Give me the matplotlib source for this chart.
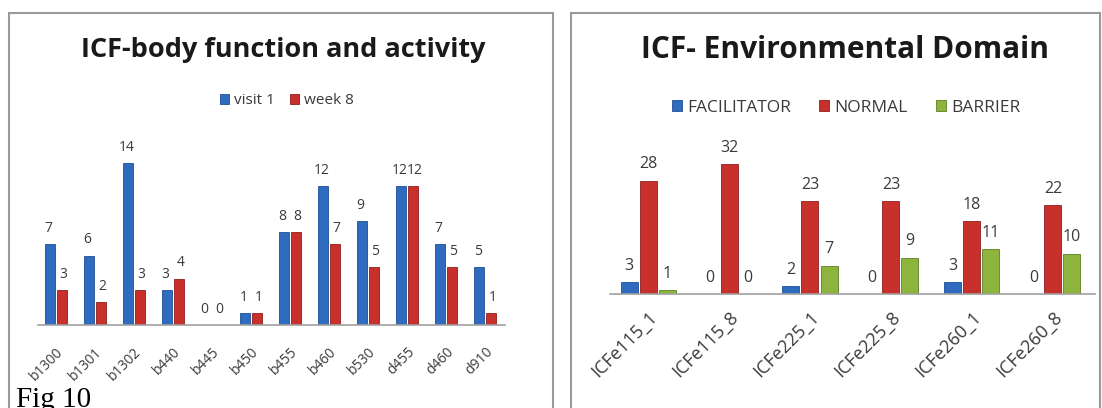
import numpy as np
import matplotlib.pyplot as plt
import matplotlib as mpl
from matplotlib.patches import Rectangle

# left chart data
body_codes = ["b1300", "b1301", "b1302", "b440", "b445", "b450",
              "b455", "b460", "b530", "d455", "d460", "d910"]
visit1 = [7, 6, 14, 3, 0, 1, 8, 12, 9, 12, 7, 5]
week8 = [3, 2, 3, 4, 0, 1, 8, 7, 5, 12, 5, 1]

# right chart data
env_codes = ["ICFe115_1", "ICFe115_8", "ICFe225_1", "ICFe225_8", "ICFe260_1", "ICFe260_8"]
facilitator = [3, 0, 2, 0, 3, 0]
normal = [28, 32, 23, 23, 18, 22]
barrier = [1, 0, 7, 9, 11, 10]

blue = '#2f6cc0'
red = '#c8302c'
green = '#8db43c'
txt = '#3a3a3a'

plt.rcParams['font.family'] = ['Open Sans', 'DejaVu Sans']

W, H = 1102, 408
fig = plt.figure(figsize=(W/100, H/100), dpi=100)


def px(x0, y0, x1, y1):
    # pixel box (top-left origin) -> figure fraction rect
    return [x0/W, 1 - y1/H, (x1-x0)/W, (y1-y0)/H]


# panel frames
for x0, x1 in [(9, 553), (571, 1100)]:
    fig.patches.append(Rectangle((x0/W, -0.05), (x1-x0)/W, 1 - 13/H + 0.05,
                                 transform=fig.transFigure, fill=False,
                                 edgecolor='#9a9a9a', linewidth=1.5))


def clean(ax):
    for s in ['top', 'right', 'left']:
        ax.spines[s].set_visible(False)
    ax.spines['bottom'].set_color('#a0a0a0')
    ax.spines['bottom'].set_linewidth(1.2)
    ax.set_yticks([])
    ax.tick_params(axis='x', length=0, colors=txt)
    ax.patch.set_alpha(0)


def labels(ax, xs, vals, size, dx=0):
    for x, v in zip(xs, vals):
        ax.annotate(str(v), (x, v), xytext=(dx, 6), textcoords='offset points',
                    ha='center', va='bottom', fontsize=size, color=txt)


# ---- left: body function and activity
ppu = 11.57
top = 17
ax1 = fig.add_axes(px(38, 325 - top*ppu, 505, 325))
x = np.arange(len(body_codes))
bw = 0.27
ax1.bar(x - bw/2 - 0.02, visit1, bw, color=blue, edgecolor='#1f4f95', linewidth=0.6, label='visit 1')
ax1.bar(x + bw/2 + 0.02, week8, bw, color=red, edgecolor='#8e1f1c', linewidth=0.6, label='week 8')
labels(ax1, x - bw/2 - 0.02, visit1, 10, dx=-1)
labels(ax1, x + bw/2 + 0.02, week8, 10, dx=1)
ax1.set_xlim(-0.46, 11.51)
ax1.set_ylim(0, top)
ax1.set_xticks(x)
ax1.set_xticklabels(body_codes, rotation=45, ha='right', rotation_mode='anchor', fontsize=10)
ax1.tick_params(axis='x', pad=14)
clean(ax1)
fig.text(283/W, 1 - 50/H, "ICF-body function and activity", ha='center', va='center',
         fontsize=19.5, fontweight='bold', color='#1a1a1a')
ax1.legend(loc='center', bbox_to_anchor=((287-38)/467, (325-101)/(top*ppu)), ncol=2,
           frameon=False, fontsize=11, handlelength=0.6, handleheight=0.6,
           handletextpad=0.3, columnspacing=1.0, labelcolor=txt)

# ---- right: environmental domain
ppu2 = 4.05
top2 = 36
ax2 = fig.add_axes(px(610, 294 - top2*ppu2, 1095, 294))
x2 = np.arange(len(env_codes))
bw2 = 0.21
off = bw2 + 0.025
ax2.bar(x2 - off, facilitator, bw2, color=blue, edgecolor='#1f4f95', linewidth=0.6, label='FACILITATOR')
ax2.bar(x2, normal, bw2, color=red, edgecolor='#8e1f1c', linewidth=0.6, label='NORMAL')
ax2.bar(x2 + off, barrier, bw2, color=green, edgecolor='#5f7f22', linewidth=0.6, label='BARRIER')
labels(ax2, x2 - off, facilitator, 11.5)
labels(ax2, x2, normal, 11.5)
labels(ax2, x2 + off, barrier, 11.5)
ax2.set_xlim(-0.47, 5.52)
ax2.set_ylim(0, top2)
ax2.set_xticks(x2)
ax2.set_xticklabels(env_codes, rotation=45, ha='right', rotation_mode='anchor', fontsize=13)
ax2.tick_params(axis='x', pad=10)
clean(ax2)
fig.text(845/W, 1 - 50/H, "ICF- Environmental Domain", ha='center', va='center',
         fontsize=21.5, fontweight='bold', color='#1a1a1a')
ax2.legend(loc='center', bbox_to_anchor=((846-610)/485, (294-108)/(top2*ppu2)), ncol=3,
           frameon=False, fontsize=12.5, handlelength=0.6, handleheight=0.6,
           handletextpad=0.3, columnspacing=1.6, labelcolor=txt)

fig.text(16/W, 1 - 387/H, "Fig 10", ha='left', va='top', fontsize=21,
         family='Liberation Serif', color='black')

plt.savefig('out.png', dpi=100)
